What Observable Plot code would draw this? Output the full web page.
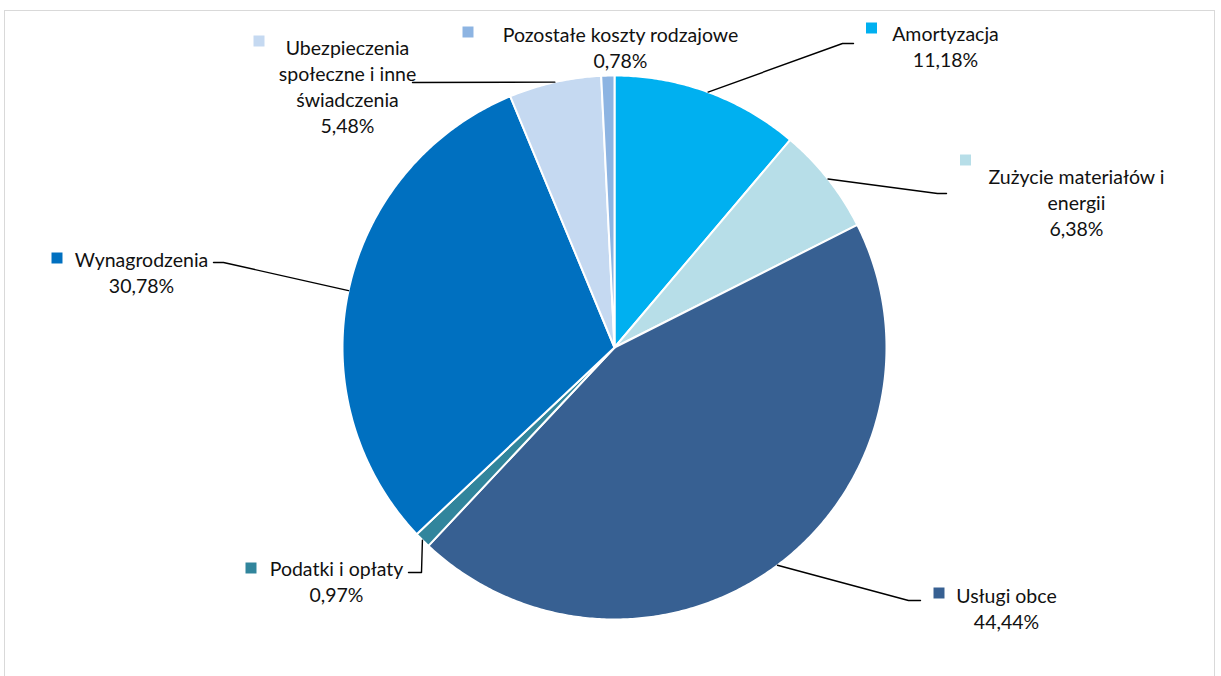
<!DOCTYPE html>
<html>
<head>
<meta charset="utf-8">
<script src="https://cdn.jsdelivr.net/npm/d3@7"></script>
<script src="https://cdn.jsdelivr.net/npm/@observablehq/plot@0.6"></script>
<style>
  html, body { margin: 0; padding: 0; background: #fff; }
  #wrap { position: relative; width: 1221px; height: 676px; overflow: hidden; }
  #frame { position: absolute; left: 4px; top: 10px; width: 1211px; height: 700px;
           border: 1.5px solid #d9d9d9; box-sizing: border-box; }
  #chart { position: absolute; left: 0; top: 0; }
</style>
</head>
<body>
<div id="wrap"><div id="frame"></div><div id="chart"></div></div>
<script>
// ---- data ----
const categories = [
  "Amortyzacja",
  "Zużycie materiałów i energii",
  "Usługi obce",
  "Podatki i opłaty",
  "Wynagrodzenia",
  "Ubezpieczenia społeczne i inne świadczenia",
  "Pozostałe koszty rodzajowe"
];
const shares = [11.18, 6.38, 44.44, 0.97, 30.78, 5.48, 0.78];
const labelLines = [
  ["Amortyzacja"],
  ["Zużycie materiałów i", "energii"],
  ["Usługi obce"],
  ["Podatki i opłaty"],
  ["Wynagrodzenia"],
  ["Ubezpieczenia", "społeczne i inne", "świadczenia"],
  ["Pozostałe koszty rodzajowe"]
];
const colors = ["#00b0f0", "#b7dee8", "#376092", "#31859c", "#0070c0", "#c5d9f1", "#8db4e2"];

// ---- layout (pixels) ----
const W = 1221, H = 676;
const cx = 614, cy = 347, R = 272;
const labelPos = [ // center of text block
  [945, 45.5], [1076, 201], [1006, 607.5], [336, 580.5], [141, 271], [347, 85.5], [620, 46.5]
];
const keyPos = [ // legend-key squares
  [871, 27.5], [965, 159.5], [938.5, 592.5], [250.5, 567.5], [56.5, 257.5], [258.5, 40.5], [467.5, 31.5]
];
const leaderTail = [ // elbow and end of leader lines (null = no leader)
  [[842, 43], [853, 43]],
  [[937, 193], [946, 193]],
  [[908, 600], [920, 600]],
  [[421, 572], [408, 572]],
  [[223, 262], [213, 262]],
  [[412, 82]],
  null
];

const fmt = v => v.toFixed(2).replace(".", ",") + "%";
const total = d3.sum(shares);
const pt = (a, r) => [cx + r * Math.sin(a), cy - r * Math.cos(a)];

// slices as polygons
const slicePts = [];
const mids = [];
let acc = 0;
shares.forEach((v, i) => {
  const a0 = acc / total * 2 * Math.PI;
  acc += v;
  const a1 = acc / total * 2 * Math.PI;
  mids.push((a0 + a1) / 2);
  const n = Math.max(2, Math.ceil((a1 - a0) / (Math.PI / 360)));
  slicePts.push({cat: categories[i], x: cx, y: cy});
  for (let k = 0; k <= n; k++) {
    const [x, y] = pt(a0 + (a1 - a0) * k / n, R);
    slicePts.push({cat: categories[i], x, y});
  }
  slicePts.push({cat: categories[i], x: cx, y: cy});
});

const leaderPts = [];
categories.forEach((c, i) => {
  if (!leaderTail[i]) return;
  const [x, y] = pt(mids[i], R);
  leaderPts.push({cat: c, x, y});
  leaderTail[i].forEach(([x, y]) => leaderPts.push({cat: c, x, y}));
});

const labels = categories.map((c, i) => ({
  cat: c,
  x: labelPos[i][0], y: labelPos[i][1],
  text: [...labelLines[i], fmt(shares[i])].join("\n")
}));
const keys = categories.map((c, i) => ({cat: c, x: keyPos[i][0], y: keyPos[i][1]}));

const chart = Plot.plot({
  width: W, height: H,
  margin: 0,
  style: {fontFamily: "Lato, 'Open Sans', sans-serif", background: "transparent"},
  x: {domain: [0, W], range: [0, W], axis: null},
  y: {domain: [0, H], range: [0, H], axis: null},
  color: {domain: categories, range: colors},
  marks: [
    Plot.line(slicePts, {x: "x", y: "y", z: "cat", fill: "cat", stroke: "white", strokeWidth: 2, strokeLinejoin: "round"}),
    Plot.line(leaderPts, {x: "x", y: "y", z: "cat", stroke: "black", strokeWidth: 1.4}),
    Plot.dot(keys, {x: "x", y: "y", fill: "cat", symbol: "square", r: 6.2, stroke: null}),
    Plot.text(labels, {x: "x", y: "y", text: "text", fontSize: 19.5, lineHeight: 1.33, lineAnchor: "middle", textAnchor: "middle", fill: "#111"})
  ]
});
document.getElementById("chart").appendChild(chart);
</script>
</body>
</html>
